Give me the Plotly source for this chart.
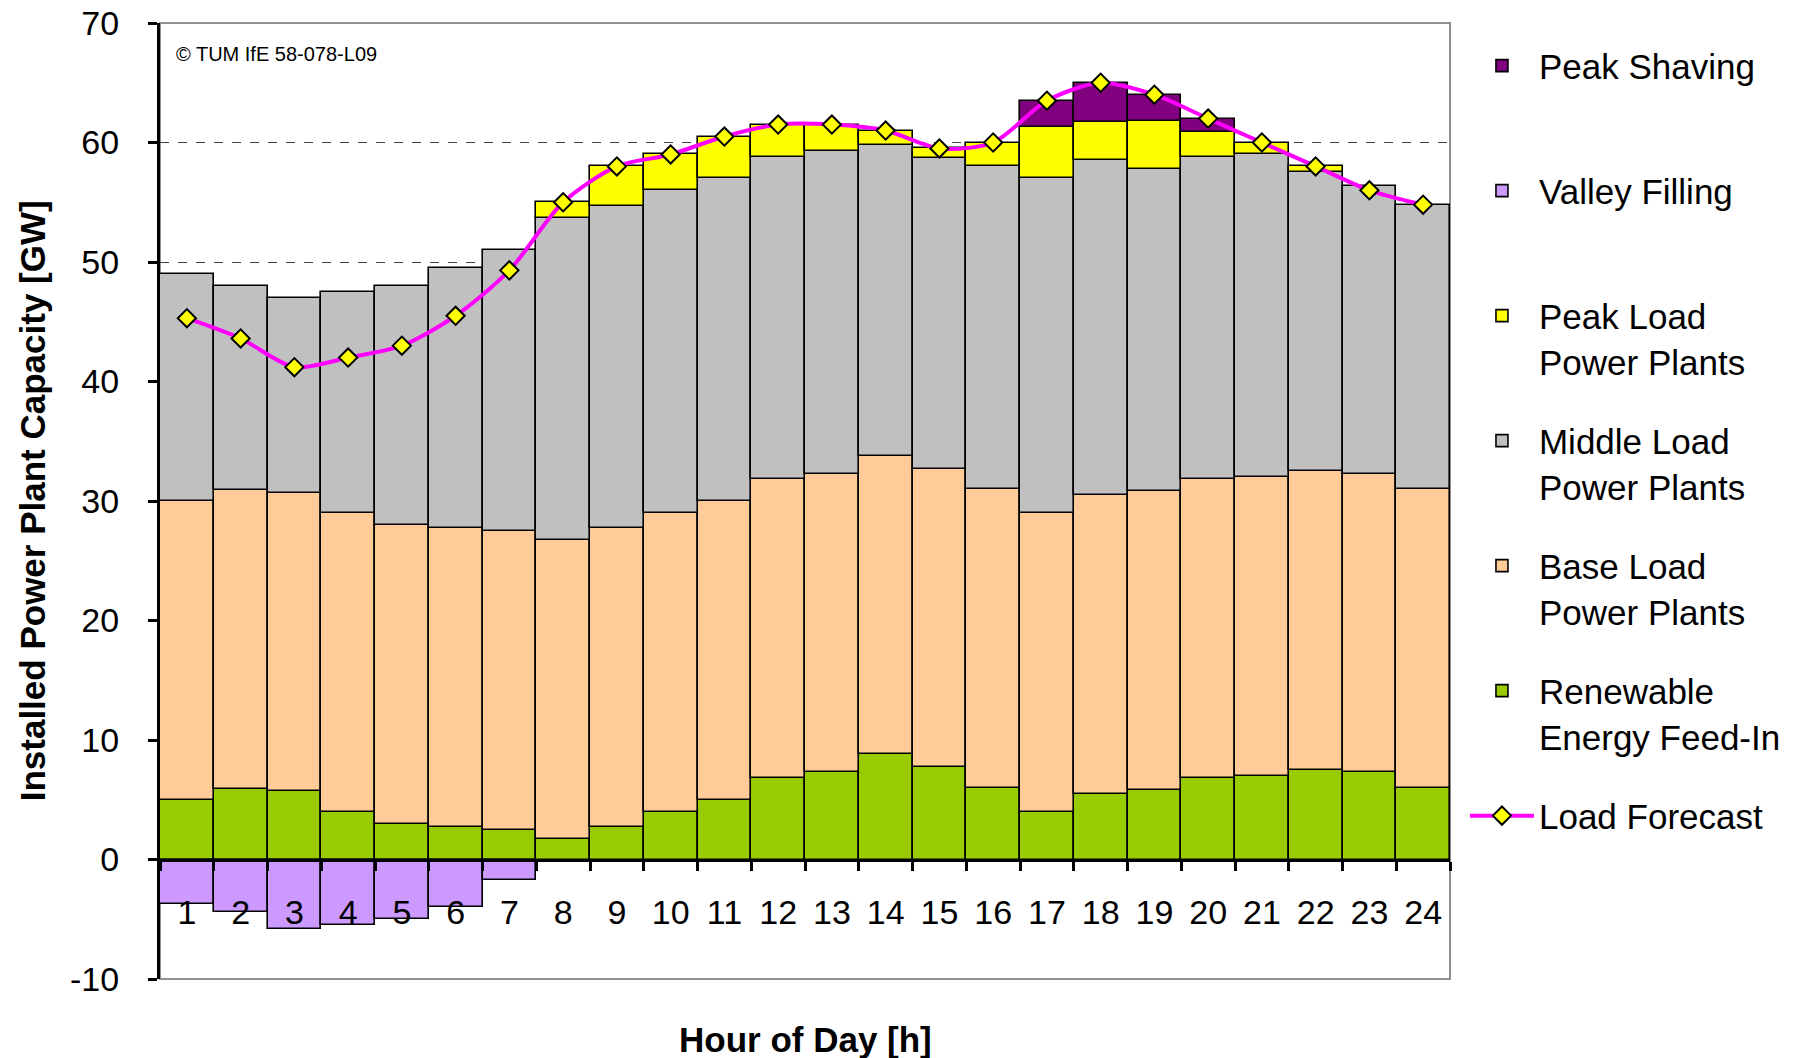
import plotly.graph_objects as go

# ---------------- data ----------------
hours = ["1", "2", "3", "4", "5", "6", "7", "8", "9", "10", "11", "12",
         "13", "14", "15", "16", "17", "18", "19", "20", "21", "22", "23", "24"]

renewable = [5.0, 5.9, 5.7, 4.0, 3.0, 2.7, 2.5, 1.7, 2.7, 4.0, 5.0, 6.8,
             7.3, 8.8, 7.7, 6.0, 4.0, 5.5, 5.8, 6.8, 7.0, 7.5, 7.3, 6.0]
base_load = [25.0, 25.0, 25.0, 25.0, 25.0, 25.0, 25.0, 25.0, 25.0, 25.0, 25.0, 25.0,
             25.0, 25.0, 25.0, 25.0, 25.0, 25.0, 25.0, 25.0, 25.0, 25.0, 25.0, 25.0]
middle_load = [19.0, 17.1, 16.3, 18.5, 20.0, 21.8, 23.5, 27.0, 27.0, 27.0, 27.0, 27.0,
               27.0, 26.0, 26.0, 27.0, 28.0, 28.0, 27.0, 27.0, 27.0, 25.0, 24.1, 23.8]
peak_load = [None, None, None, None, None, None, None, 1.3, 3.3, 3.0, 3.5, 2.7,
             2.2, 1.2, 0.8, 2.0, 4.3, 3.2, 4.0, 2.1, 1.0, 0.5, None, None]
peak_shaving = [None, None, None, None, None, None, None, None, None, None, None, None,
                None, None, None, None, 2.2, 3.3, 2.2, 1.1, None, None, None, None]
valley_filling = [-3.7, -4.4, -5.8, -5.5, -5.0, -4.0, -1.7, None, None, None, None, None,
                  None, None, None, None, None, None, None, None, None, None, None, None]
load_forecast = [45.3, 43.6, 41.2, 42.0, 43.0, 45.5, 49.3, 55.0, 58.0, 59.0, 60.5, 61.5,
                 61.5, 61.0, 59.5, 60.0, 63.5, 65.0, 64.0, 62.0, 60.0, 58.0, 56.0, 54.8]

y_ticks = [-10, 0, 10, 20, 30, 40, 50, 60, 70]
y_tick_text = ["-10", "0", "10", "20", "30", "40", "50", "60", "70"]
y_min, y_max = -10, 70

FONT = "Arial, Liberation Sans, sans-serif"

fig = go.Figure()

bar_specs = [
    ("Renewable<br>Energy Feed-In", renewable, "#99CC00", 6),
    ("Base Load<br>Power Plants", base_load, "#FFCC99", 5),
    ("Middle Load<br>Power Plants", middle_load, "#C0C0C0", 4),
    ("Peak Load<br>Power Plants", peak_load, "#FFFF00", 3),
    ("Peak Shaving<br> ", peak_shaving, "#800080", 1),
    ("Valley Filling<br> ", valley_filling, "#CC99FF", 2),
]
for name, vals, col, rank in bar_specs:
    fig.add_trace(go.Bar(
        x=hours, y=vals, name=name,
        marker=dict(color=col, line=dict(color="black", width=1.6)),
        legendrank=rank, legendgroup=name,
    ))

fig.add_trace(go.Scatter(
    x=hours, y=load_forecast, name="Load Forecast",
    mode="lines+markers",
    line=dict(color="#FF00FF", width=4, shape="spline", smoothing=0.8),
    marker=dict(symbol="diamond", size=14, color="#FFFF00",
                line=dict(color="black", width=2)),
    legendrank=7, legendgroup="load",
))

zero_pos = (0 - y_min) / (y_max - y_min)

fig.update_layout(
    width=1793, height=1058,
    margin=dict(l=160, r=343, t=23, b=79, autoexpand=False),
    paper_bgcolor="white", plot_bgcolor="white",
    barmode="relative", bargap=0,
    font=dict(family=FONT, size=34, color="black"),
    showlegend=True,
    legend=dict(
        x=1.0116, xanchor="left", y=0.986, yanchor="top",
        traceorder="grouped", valign="top",
        tracegroupgap=31, itemwidth=64,
        font=dict(family=FONT, size=35, color="black"),
        bgcolor="rgba(0,0,0,0)",
    ),
    xaxis=dict(
        type="category", categoryorder="array", categoryarray=hours,
        range=[-0.5, len(hours) - 0.5], automargin=False,
        anchor="free", position=zero_pos,
        showline=True, linecolor="black", linewidth=3,
        ticks="outside", tickson="boundaries", ticklen=9, tickwidth=3, tickcolor="black",
        tickfont=dict(family=FONT, size=34, color="black"),
        ticklabelstandoff=22, ticklabeloverflow="allow",
        showgrid=False, zeroline=False,
    ),
    yaxis=dict(
        range=[y_min, y_max], tickvals=y_ticks, ticktext=y_tick_text,
        automargin=False,
        showline=True, linecolor="black", linewidth=3,
        ticks="outside", ticklen=9, tickwidth=3, tickcolor="black",
        tickfont=dict(family=FONT, size=34, color="black"),
        ticklabelstandoff=22, ticklabeloverflow="allow",
        showgrid=True, gridcolor="#404040", gridwidth=1, griddash="dash",
        zeroline=False,
    ),
    shapes=[dict(type="rect", xref="paper", yref="paper", x0=0, x1=1, y0=0, y1=1,
                 line=dict(color="#909090", width=2), layer="below")],
    annotations=[
        dict(text="<b>Hour of Day [h]</b>", xref="paper", yref="paper",
             x=0.5, y=-0.063, xanchor="center", yanchor="middle", showarrow=False,
             font=dict(family=FONT, size=35, color="black")),
        dict(text="<b>Installed Power Plant Capacity [GW]</b>", xref="paper", yref="paper",
             x=-0.099, y=0.5, xanchor="center", yanchor="middle", textangle=-90,
             showarrow=False, font=dict(family=FONT, size=35, color="black")),
        dict(text="© TUM IfE 58-078-L09", xref="paper", yref="paper",
             x=0.011, y=0.968, xanchor="left", yanchor="middle", showarrow=False,
             font=dict(family=FONT, size=20, color="black")),
    ],
)

fig.write_html("out.html",
               config={"displayModeBar": False},
               post_script="document.body.style.margin='0px';document.body.style.overflow='hidden';")
